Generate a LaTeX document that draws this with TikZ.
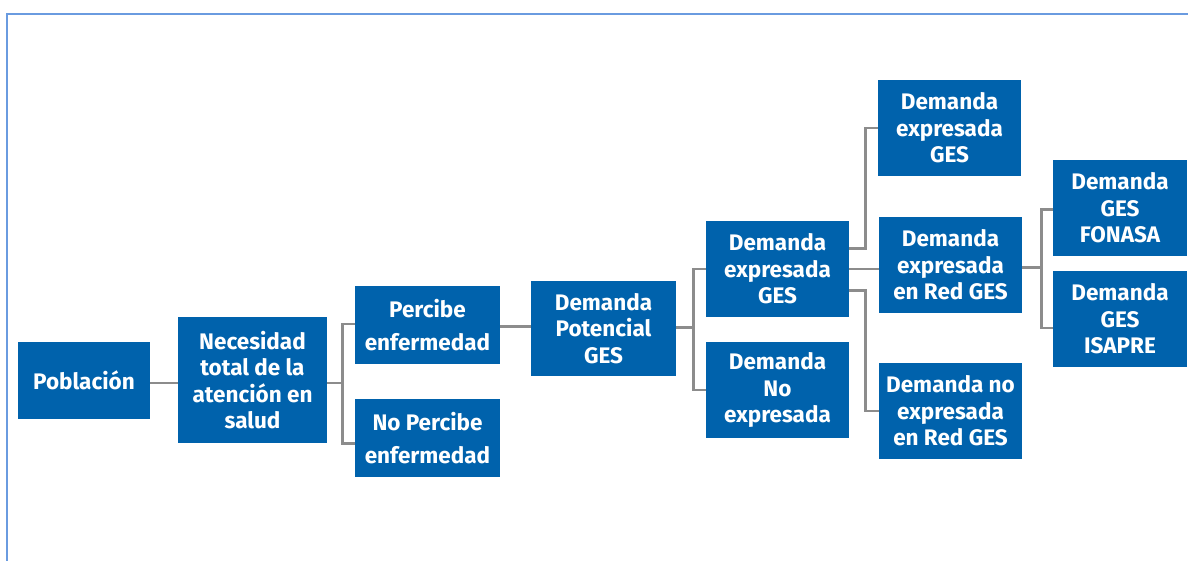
\documentclass[tikz,border=0pt]{standalone}
\usepackage{fontspec}
\setmainfont{Fira Sans}
\definecolor{boxblue}{RGB}{0,98,172}
\definecolor{linegray}{RGB}{140,140,140}
\definecolor{frameblue}{RGB}{106,155,224}
\tikzset{
  bx/.style={fill=boxblue, text=white, inner sep=0pt, align=center,
    font=\bfseries\fontsize{22.5}{26.5}\selectfont},
  wide/.style={font=\bfseries\fontsize{22.5}{33}\selectfont},
  conn/.style={draw=linegray, line width=2.8pt}
}
\begin{document}
\begin{tikzpicture}[x=1pt,y=-1pt]
\useasboundingbox (0,0) rectangle (1188,561);
\draw[frameblue, line width=2pt] (6.5,561) -- (6.5,14.5) -- (1188,14.5);
\node[bx, minimum width=132pt, minimum height=77pt] (pob) at (84,380.5) {Población};
\node[bx, minimum width=149pt, minimum height=126pt] (nec) at (252.5,380) {Necesidad\\total de la\\atención en\\salud};
\node[bx, wide, minimum width=145pt, minimum height=78pt] (perc) at (427.5,325) {Percibe\\enfermedad};
\node[bx, wide, minimum width=145pt, minimum height=78pt] (noperc) at (427.5,438) {No Percibe\\enfermedad};
\node[bx, minimum width=145pt, minimum height=95pt] (pot) at (603.5,328.5) {Demanda\\Potencial\\GES};
\node[bx, minimum width=143pt, minimum height=96pt] (deg) at (777.5,269) {Demanda\\expresada\\GES};
\node[bx, minimum width=143pt, minimum height=96pt] (dne) at (777.5,390) {Demanda\\No\\expresada};
\node[bx, minimum width=143.5pt, minimum height=96pt] (deg2) at (949.5,128) {Demanda\\expresada\\GES};
\node[bx, minimum width=143.5pt, minimum height=96pt] (dred) at (950.5,265) {Demanda\\expresada\\en Red GES};
\node[bx, minimum width=143.5pt, minimum height=96pt] (dnored) at (950.5,411) {Demanda no\\expresada\\en Red GES};
\node[bx, minimum width=134pt, minimum height=96pt] (fon) at (1120,208) {Demanda\\GES\\FONASA};
\node[bx, minimum width=134pt, minimum height=96pt] (isa) at (1120,319) {Demanda\\GES\\ISAPRE};
% connectors
\draw[conn] ([yshift=-2.5pt]pob.east) -- ([yshift=-2.5pt]pob.east -| nec.west);
\coordinate (j1) at ([xshift=15pt,yshift=-3pt]nec.east);
\draw[conn] ([yshift=-3pt]nec.east) -- (j1);
\draw[conn] (j1) |- ([yshift=1pt]perc.west);
\draw[conn] (j1) |- ([yshift=-5.7pt]noperc.west);
\draw[conn] ([yshift=-1.7pt]perc.east) -- ([yshift=-1.7pt]perc.east -| pot.west);
\coordinate (j2) at ([xshift=17.3pt,yshift=0.8pt]pot.east);
\draw[conn] ([yshift=0.8pt]pot.east) -- (j2);
\draw[conn] (j2) |- (deg.west);
\draw[conn] (j2) |- (dne.west);
\coordinate (j3) at ([xshift=16.2pt,yshift=20.7pt]deg.east);
\draw[conn] ([yshift=20.7pt]deg.east) -- (j3) |- (deg2.west);
\draw[conn] (deg.east) -- (deg.east -| dred.west);
\coordinate (j4) at ([xshift=16.2pt,yshift=-21.7pt]deg.east);
\draw[conn] ([yshift=-21.7pt]deg.east) -- (j4) |- (dnored.west);
\coordinate (j5) at ([xshift=18.7pt,yshift=-2.3pt]dred.east);
\draw[conn] ([yshift=-2.3pt]dred.east) -- (j5);
\draw[conn] (j5) |- ([yshift=-1.3pt]fon.west);
\draw[conn] (j5) |- ([yshift=-9pt]isa.west);
\end{tikzpicture}
\end{document}
